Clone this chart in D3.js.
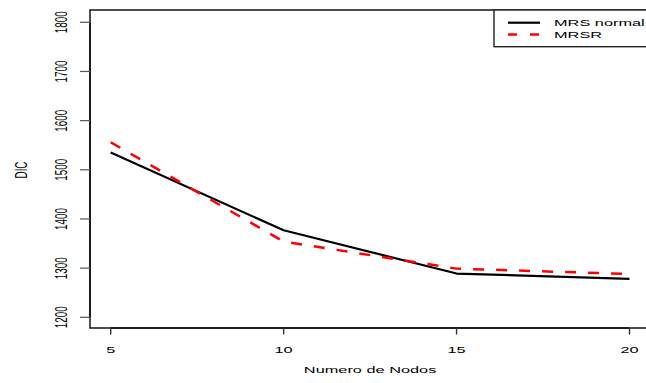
<!DOCTYPE html>
<html>
<head>
<meta charset="utf-8">
<script src="https://cdn.jsdelivr.net/npm/d3@7"></script>
<style>
  html, body { margin: 0; padding: 0; background: #fff; }
  svg { display: block; }
  text { font-family: "Liberation Sans", Arial, Helvetica, sans-serif; fill: #000; }
</style>
</head>
<body>
<svg id="chart" width="646" height="383"></svg>
<script>
// Number of nodes (x) and DIC values for the two models
const nodos = [5, 10, 15, 20];
const dicNormal = [1535, 1377, 1289, 1278];
const dicMRSR = [1556, 1354, 1299, 1288];
const seriesNames = ["MRS normal", "MRSR"];
const xTicks = [5, 10, 15, 20];
const yTicks = [1200, 1300, 1400, 1500, 1600, 1700, 1800];

const box = { left: 90, top: 10, right: 652, bottom: 328 };
const stretch = 1.65;      // horizontal stretch of glyphs
const fs = 9.9;            // font size

const svg = d3.select("#chart");

const x = d3.scaleLinear().domain([5, 20]).range([110.7, 629.5]);
const y = d3.scaleLinear().domain([1200, 1800]).range([317.3, 22.3]);

// plot frame
svg.append("rect")
  .attr("x", box.left).attr("y", box.top)
  .attr("width", box.right - box.left).attr("height", box.bottom - box.top)
  .attr("fill", "none").attr("stroke", "#222").attr("stroke-width", 1.6);

// y axis
const yAxis = svg.append("g");
yAxis.append("line")
  .attr("x1", box.left).attr("x2", box.left)
  .attr("y1", y(1200)).attr("y2", y(1800))
  .attr("stroke", "#111").attr("stroke-width", 1.6);
yAxis.selectAll("line.tick").data(yTicks).join("line")
  .attr("class", "tick")
  .attr("x1", box.left - 10).attr("x2", box.left)
  .attr("y1", d => y(d)).attr("y2", d => y(d))
  .attr("stroke", "#555").attr("stroke-width", 1.2);
yAxis.selectAll("text").data(yTicks).join("text")
  .attr("transform", d => `translate(66.8,${y(d)}) scale(${stretch},1) rotate(-90)`)
  .attr("text-anchor", "middle")
  .attr("font-size", fs)
  .text(d => d);

// x axis
const xAxis = svg.append("g");
xAxis.append("line")
  .attr("x1", x(5)).attr("x2", x(20))
  .attr("y1", box.bottom).attr("y2", box.bottom)
  .attr("stroke", "#111").attr("stroke-width", 1.6);
xAxis.selectAll("line.tick").data(xTicks).join("line")
  .attr("class", "tick")
  .attr("x1", d => x(d)).attr("x2", d => x(d))
  .attr("y1", box.bottom).attr("y2", box.bottom + 6.5)
  .attr("stroke", "#333").attr("stroke-width", 1.4);
xAxis.selectAll("text").data(xTicks).join("text")
  .attr("transform", d => `translate(${x(d)},352.5) scale(${stretch},1)`)
  .attr("text-anchor", "middle")
  .attr("font-size", fs)
  .text(d => d);

// axis titles
svg.append("text")
  .attr("transform", `translate(${(x(5) + x(20)) / 2},373) scale(${stretch},1)`)
  .attr("text-anchor", "middle")
  .attr("font-size", fs)
  .text("Numero de Nodos");
svg.append("text")
  .attr("transform", `translate(26.8,170) scale(${stretch},1) rotate(-90)`)
  .attr("text-anchor", "middle")
  .attr("font-size", fs)
  .text("DIC");

// series
const line = d3.line().x(d => x(d[0])).y(d => y(d[1]));
svg.append("path")
  .datum(d3.zip(nodos, dicNormal))
  .attr("d", line)
  .attr("fill", "none").attr("stroke", "#000").attr("stroke-width", 2.2)
  .attr("stroke-linejoin", "round");
svg.append("path")
  .datum(d3.zip(nodos, dicMRSR))
  .attr("d", line)
  .attr("fill", "none").attr("stroke", "#ff0000").attr("stroke-width", 2.5)
  .attr("stroke-dasharray", "11,12");

// legend
const lg = svg.append("g");
lg.append("rect")
  .attr("x", 494).attr("y", box.top)
  .attr("width", 170).attr("height", 46.7 - box.top)
  .attr("fill", "#fff").attr("stroke", "#222").attr("stroke-width", 1.4);
const legendRows = [
  { name: seriesNames[0], color: "#000", dash: null, w: 2.2, yy: 22.7 },
  { name: seriesNames[1], color: "#ff0000", dash: "9,13", w: 2.5, yy: 34.5 }
];
legendRows.forEach(r => {
  lg.append("line")
    .attr("x1", 508).attr("x2", 540)
    .attr("y1", r.yy).attr("y2", r.yy)
    .attr("stroke", r.color).attr("stroke-width", r.w)
    .attr("stroke-dasharray", r.dash);
  lg.append("text")
    .attr("transform", `translate(554,${r.yy + 3.6}) scale(${stretch},1)`)
    .attr("font-size", fs)
    .text(r.name);
});
</script>
</body>
</html>
